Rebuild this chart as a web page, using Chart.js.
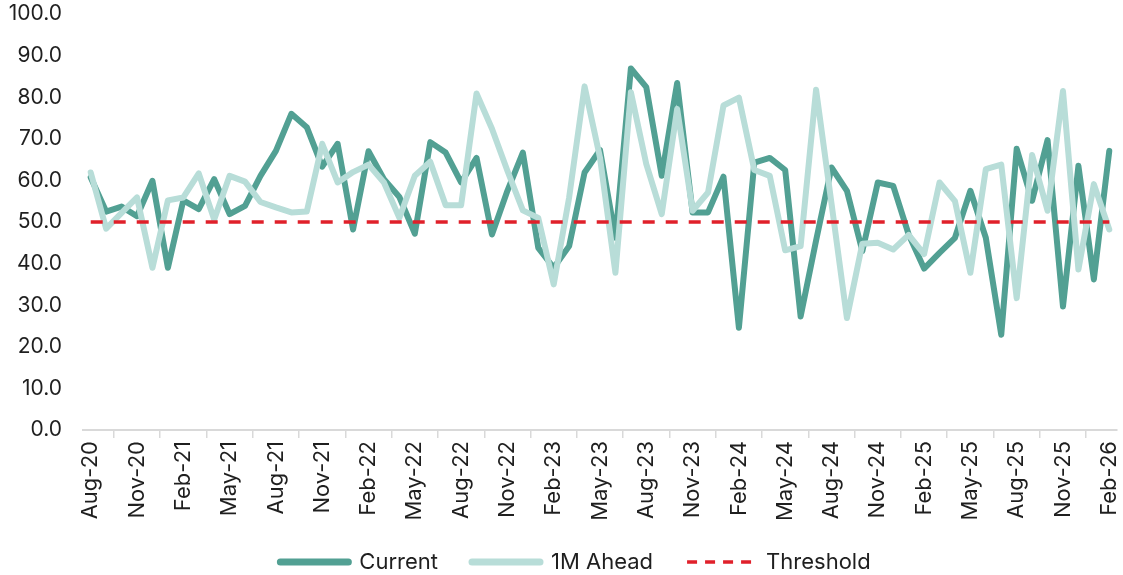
<!DOCTYPE html>
<html>
<head>
<meta charset="utf-8">
<script src="https://cdn.jsdelivr.net/npm/chart.js@4"></script>
<style>
  html, body { margin: 0; padding: 0; background: #ffffff; }
  #wrap { width: 1123px; height: 575px; position: relative; }
</style>
</head>
<body>
<div id="wrap"><canvas id="c" width="1123" height="575"></canvas></div>
<script>
const months = ['Jan','Feb','Mar','Apr','May','Jun','Jul','Aug','Sep','Oct','Nov','Dec'];
const categories = [];
for (let k = 0; k < 67; k++) {
  const m = (7 + k) % 12;
  const y = 20 + Math.floor((7 + k) / 12);
  categories.push(months[m] + '-' + y);
}

const currentValues = [
  60.7, 52.5, 53.7, 51.4, 59.9, 39.0, 55.2, 53.1, 60.3, 51.9,
  53.9, 61.1, 67.1, 76.0, 72.8, 63.3, 68.8, 48.2, 67.0, 60.3,
  56.0, 47.2, 69.2, 66.7, 59.5, 65.4, 47.0, 57.5, 66.7, 43.8,
  39.0, 44.2, 61.9, 67.3, 46.2, 86.9, 82.4, 61.1, 83.4, 52.3,
  52.3, 60.9, 24.6, 64.3, 65.4, 62.5, 27.3, 45.5, 63.1, 57.5,
  43.0, 59.5, 58.7, 47.0, 38.8, 42.6, 46.2, 57.5, 46.2, 22.9,
  67.6, 55.1, 69.7, 29.7, 63.5, 36.2, 67.1
];

const aheadValues = [
  61.9, 48.4, 52.2, 55.9, 39.0, 55.2, 55.9, 61.7, 50.6, 61.1,
  59.7, 54.8, 53.5, 52.3, 52.5, 68.8, 59.5, 62.0, 63.8, 59.5,
  51.0, 61.1, 64.5, 54.0, 54.0, 80.9, 72.4, 62.3, 52.8, 51.0,
  35.0, 55.9, 82.6, 65.5, 37.8, 81.2, 63.9, 51.9, 77.2, 52.7,
  57.1, 78.0, 79.9, 62.5, 61.1, 43.2, 44.2, 81.8, 54.5, 26.9,
  44.8, 45.0, 43.4, 46.9, 42.3, 59.5, 55.0, 37.8, 62.7, 63.8,
  31.7, 66.1, 52.7, 81.5, 38.6, 59.1, 48.2
];

const THRESHOLD = 50;
const thresholdValues = categories.map(() => THRESHOLD);

const yTicks = [0, 10, 20, 30, 40, 50, 60, 70, 80, 90, 100];

const FONT = 'Inter, "Open Sans", sans-serif';
const TEXT = '#1f1f1f';

const layoutTweaks = {
  id: 'layoutTweaks',
  afterLayout(chart) {
    if (chart.legend) { chart.legend.left += 17; chart.legend.right += 17; }
    if (chart.scales.x) { chart.scales.x.bottom += 14; }
  }
};

new Chart(document.getElementById('c'), {
  type: 'line',
  plugins: [layoutTweaks],
  data: {
    labels: categories,
    datasets: [
      {
        label: 'Current',
        data: currentValues,
        borderColor: '#52a093',
        backgroundColor: '#52a093',
        borderWidth: 6,
        borderCapStyle: 'round',
        borderJoinStyle: 'round',
        pointRadius: 0,
        tension: 0,
        order: 2
      },
      {
        label: '1M Ahead',
        data: aheadValues,
        borderColor: '#b8ddd8',
        backgroundColor: '#b8ddd8',
        borderWidth: 6,
        borderCapStyle: 'round',
        borderJoinStyle: 'round',
        pointRadius: 0,
        tension: 0,
        order: 1
      },
      {
        label: 'Threshold',
        data: thresholdValues,
        borderColor: '#e0202a',
        backgroundColor: '#e0202a',
        borderWidth: 3.5,
        borderDash: [12, 11],
        borderCapStyle: 'butt',
        pointRadius: 0,
        tension: 0,
        order: 0
      }
    ]
  },
  options: {
    responsive: false,
    animation: false,
    devicePixelRatio: 1,
    layout: { padding: { left: 0, right: 6, top: 0, bottom: -8 } },
    plugins: {
      tooltip: { enabled: false },
      legend: {
        position: 'bottom',
        labels: {
          usePointStyle: true,
          pointStyle: 'line',
          pointStyleWidth: 68,
          padding: 34,
          color: TEXT,
          font: { family: FONT, size: 22 },
          sort: (a, b) => a.datasetIndex - b.datasetIndex,
          generateLabels: function (chart) {
            const items = Chart.defaults.plugins.legend.labels.generateLabels(chart);
            items.forEach(it => {
              const ds = chart.data.datasets[it.datasetIndex];
              it.lineDash = ds.borderDash ? [10, 8] : [];
              it.lineWidth = ds.borderDash ? 3.5 : 7;
              it.lineCap = ds.borderCapStyle;
              it.strokeStyle = ds.borderColor;
              it.fillStyle = ds.borderColor;
            });
            return items;
          }
        }
      }
    },
    scales: {
      x: {
        type: 'category',
        offset: true,
        afterFit: function (s) { s.paddingLeft = 0; s.paddingRight = 0; s.height = 87; },
        grid: {
          display: true,
          offset: true,
          drawOnChartArea: false,
          drawTicks: true,
          tickLength: 8,
          color: '#d9d9d9',
          lineWidth: 1.5
        },
        border: { display: true, color: '#d9d9d9', width: 2 },
        ticks: {
          autoSkip: false,
          minRotation: 90,
          maxRotation: 90,
          padding: 3,
          color: TEXT,
          font: { family: FONT, size: 22 },
          callback: function (value, index) {
            return index % 3 === 0 ? this.getLabelForValue(value) : null;
          }
        }
      },
      y: {
        min: 0,
        max: 100,
        afterFit: function (s) { s.width = 83; s.paddingTop = 14; s.paddingBottom = 0; },
        afterBuildTicks: function (s) { s.ticks = yTicks.map(v => ({ value: v })); },
        grid: { display: false, drawTicks: false },
        border: { display: false },
        ticks: {
          padding: 21,
          color: TEXT,
          font: { family: FONT, size: 21 },
          callback: v => Number(v).toFixed(1)
        }
      }
    }
  }
});
</script>
</body>
</html>
